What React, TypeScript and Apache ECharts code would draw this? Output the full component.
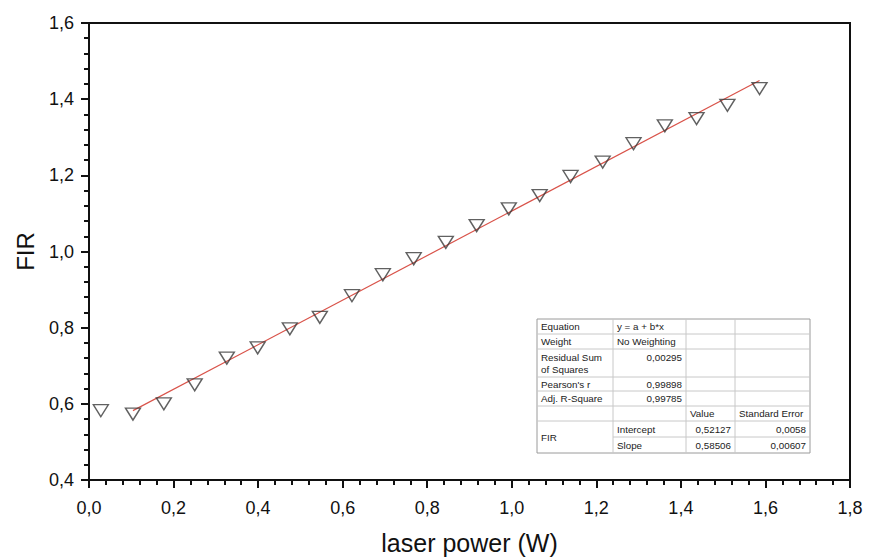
import React, { useEffect, useRef } from "react";
import * as echarts from "echarts";

const laserPower = [0.028, 0.104, 0.177, 0.25, 0.326, 0.399, 0.475, 0.546, 0.622, 0.695, 0.768, 0.844, 0.917, 0.993, 1.066, 1.139, 1.215, 1.288, 1.362, 1.437, 1.51, 1.586];
const firValues = [0.582, 0.573, 0.6, 0.65, 0.72, 0.747, 0.797, 0.827, 0.884, 0.939, 0.981, 1.024, 1.068, 1.112, 1.147, 1.197, 1.235, 1.283, 1.33, 1.349, 1.384, 1.428];

const fitIntercept = 0.52127;
const fitSlope = 0.58506;
const fitRange = [0.104, 1.586];

const tableRows: string[][] = [
  ["Equation", "y = a + b*x", "", ""],
  ["Weight", "No Weighting", "", ""],
  ["Residual Sum\nof Squares", "0,00295", "", ""],
  ["Pearson's r", "0,99898", "", ""],
  ["Adj. R-Square", "0,99785", "", ""],
  ["", "", "Value", "Standard Error"],
  ["FIR", "Intercept", "0,52127", "0,0058"],
  ["", "Slope", "0,58506", "0,00607"],
];

const fmt = (v: number) => v.toFixed(1).replace(".", ",");

function buildTable() {
  const cols = [537, 613, 686, 735, 810];
  const rows = [319, 334, 349, 377, 391, 406, 421, 437, 453];
  const els: any[] = [];
  const font = "9.8px 'Liberation Sans', Arial, sans-serif";
  els.push({
    type: "rect",
    shape: { x: cols[0], y: rows[0], width: cols[4] - cols[0], height: rows[8] - rows[0] },
    style: { fill: "#fff", stroke: "#9a9a9a", lineWidth: 1 },
    z: 10,
  });
  for (let c = 1; c < 4; c++) {
    els.push({ type: "line", shape: { x1: cols[c], y1: rows[0], x2: cols[c], y2: rows[8] }, style: { stroke: "#c8c8c8", lineWidth: 1 }, z: 11 });
  }
  for (let r = 1; r < 8; r++) {
    const x1 = r === 7 ? cols[1] : cols[0];
    els.push({ type: "line", shape: { x1, y1: rows[r], x2: cols[4], y2: rows[r] }, style: { stroke: "#c8c8c8", lineWidth: 1 }, z: 11 });
  }
  tableRows.forEach((row, r) => {
    row.forEach((txt, c) => {
      if (!txt) return;
      const numeric = /^[0-9]/.test(txt);
      const merged = r === 6 && c === 0;
      const top = rows[r];
      const bottom = merged ? rows[8] : rows[r + 1];
      const alignTop = r === 2 && c === 1;
      const x = numeric ? cols[c + 1] - 4 : cols[c] + 4;
      const y = alignTop ? top + 8 : (top + bottom) / 2;
      els.push({
        type: "text",
        x,
        y,
        style: {
          text: txt,
          font,
          fill: "#222",
          align: numeric ? "right" : "left",
          verticalAlign: "middle",
          lineHeight: 12,
        },
        z: 12,
      });
    });
  });
  return els;
}

export default function App() {
  const ref = useRef<HTMLDivElement>(null);
  useEffect(() => {
    if (!ref.current) return;
    const chart = echarts.init(ref.current, null, { renderer: "svg" });
    const fitData = fitRange.map((x) => [x, fitIntercept + fitSlope * x]);
    const axisFont = "'Liberation Sans', Arial, sans-serif";
    chart.setOption({
      animation: false,
      backgroundColor: "#fff",
      grid: {
        left: 89,
        top: 23,
        width: 761,
        height: 457,
        show: true,
        borderColor: "#111",
        borderWidth: 2,
        backgroundColor: "transparent",
        containLabel: false,
        outerBoundsMode: "none",
      },
      xAxis: {
        type: "value",
        min: 0,
        max: 1.8,
        interval: 0.2,
        name: "laser power (W)",
        nameLocation: "middle",
        nameGap: 50,
        nameTextStyle: { fontSize: 25, color: "#111", fontFamily: axisFont },
        axisLine: { show: true, lineStyle: { color: "#111", width: 2 } },
        axisTick: { show: true, inside: false, length: 8, lineStyle: { color: "#111", width: 2 } },
        minorTick: { show: true, splitNumber: 5, length: 5, lineStyle: { color: "#111", width: 2 } },
        splitLine: { show: false },
        axisLabel: { fontSize: 18, color: "#111", margin: 19, fontFamily: axisFont, formatter: fmt },
      },
      yAxis: {
        type: "value",
        min: 0.4,
        max: 1.6,
        interval: 0.2,
        name: "FIR",
        nameLocation: "middle",
        nameGap: 52,
        nameTextStyle: { fontSize: 24, color: "#111", fontFamily: axisFont },
        axisLine: { show: true, lineStyle: { color: "#111", width: 2 } },
        axisTick: { show: true, inside: false, length: 8, lineStyle: { color: "#111", width: 2 } },
        minorTick: { show: true, splitNumber: 5, length: 5, lineStyle: { color: "#111", width: 2 } },
        splitLine: { show: false },
        axisLabel: { fontSize: 18, color: "#111", margin: 15, fontFamily: axisFont, formatter: fmt },
      },
      series: [
        {
          type: "line",
          data: fitData,
          showSymbol: false,
          symbol: "none",
          lineStyle: { color: "#d9534a", width: 1.2 },
          z: 2,
        },
        {
          type: "scatter",
          data: laserPower.map((x, i) => [x, firValues[i]]),
          symbol: "triangle",
          symbolRotate: 180,
          symbolSize: [15, 12],
          itemStyle: { color: "rgba(255,255,255,0)", borderColor: "#3a3a3a", borderWidth: 1.4 },
          z: 3,
        },
      ],
      graphic: buildTable(),
    });
    return () => chart.dispose();
  }, []);
  return (
    <div
      ref={ref}
      style={{ position: "fixed", left: 0, top: 0, width: 869, height: 558, background: "#fff" }}
    />
  );
}
